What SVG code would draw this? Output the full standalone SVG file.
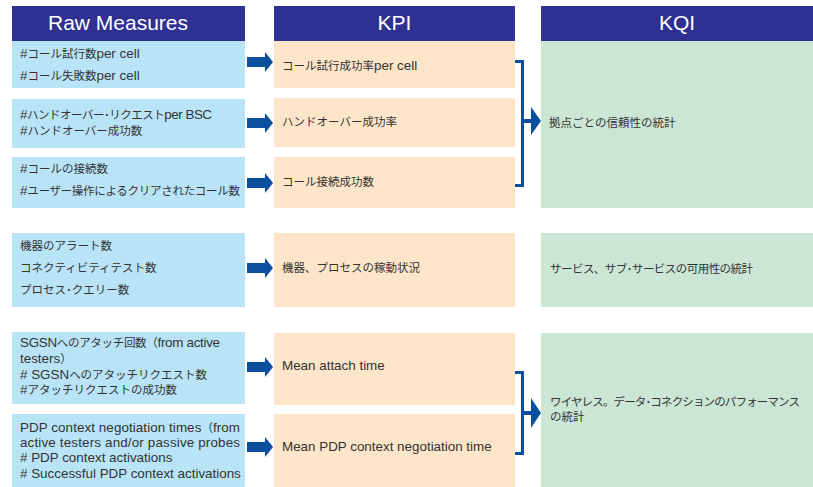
<svg xmlns="http://www.w3.org/2000/svg" xmlns:xlink="http://www.w3.org/1999/xlink" width="813" height="487" viewBox="0 0 813 487">
<style>
.hdr{fill:#2e3192}
.raw{fill:#b9e4f8}
.kpi{fill:#fde5c9}
.kqi{fill:#cce6d5}
.ht{font-family:"Liberation Sans","Noto Sans CJK JP",sans-serif;font-size:21px;fill:#ffffff;text-anchor:middle}
.t{font-family:"Liberation Sans","Noto Sans CJK JP",sans-serif;font-size:11.5px;fill:#333333}
.l{font-size:13.4px}
.arr{fill:#0b4f9f}
.br{fill:none;stroke:#0b4f9f;stroke-width:3}
</style>
<defs>
<path id="a" d="M0,-5 H18 V-10 L26,0 L18,10 V5 H0 Z"/>
</defs>
<rect width="813" height="487" fill="#ffffff"/>
<g id="header-raw"><rect class="hdr" x="12" y="6" width="233" height="35"/><text class="ht" x="118" y="30">Raw Measures</text></g>
<g id="header-kpi"><rect class="hdr" x="274" y="6" width="241" height="35"/><text class="ht" x="394.5" y="30">KPI</text></g>
<g id="header-kqi"><rect class="hdr" x="541" y="6" width="272" height="35"/><text class="ht" x="677" y="30">KQI</text></g>

<g id="raw1"><rect class="raw" x="12" y="41" width="233" height="47"/><text class="t" x="20" y="58"><tspan class="l">#</tspan>コール試行数<tspan class="l">per cell</tspan></text><text class="t" x="20" y="80"><tspan class="l">#</tspan>コール失敗数<tspan class="l">per cell</tspan></text></g>
<g id="raw2"><rect class="raw" x="12" y="99" width="233" height="49"/><text class="t" x="20" y="119" textLength="192"><tspan class="l">#</tspan>ハンドオーバー･リクエスト<tspan class="l">per BSC</tspan></text><text class="t" x="20" y="135"><tspan class="l">#</tspan>ハンドオーバー成功数</text></g>
<g id="raw3"><rect class="raw" x="12" y="157" width="233" height="51"/><text class="t" x="20" y="173"><tspan class="l">#</tspan>コールの接続数</text><text class="t" x="20" y="195" textLength="220"><tspan class="l">#</tspan>ユーザー操作によるクリアされたコール数</text></g>
<g id="raw4"><rect class="raw" x="12" y="233" width="233" height="74"/><text class="t" x="20" y="250">機器のアラート数</text><text class="t" x="20" y="272">コネクティビティテスト数</text><text class="t" x="20" y="294">プロセス･クエリー数</text></g>
<g id="raw5"><rect class="raw" x="12" y="332" width="233" height="72"/><text class="t" x="20" y="347" textLength="200"><tspan class="l">SGSN</tspan>へのアタッチ回数（<tspan class="l">from active</tspan></text><text class="t" x="20" y="363"><tspan class="l">testers</tspan>）</text><text class="t" x="20" y="379"><tspan class="l"># SGSN</tspan>へのアタッチリクエスト数</text><text class="t" x="20" y="394"><tspan class="l">#</tspan>アタッチリクエストの成功数</text></g>
<g id="raw6"><rect class="raw" x="12" y="414" width="233" height="73"/><text class="t" x="20" y="432" textLength="220"><tspan class="l">PDP context negotiation times</tspan>（<tspan class="l">from</tspan></text><text class="t l" x="20" y="447" textLength="220">active testers and/or passive probes</text><text class="t l" x="20" y="462"># PDP context activations</text><text class="t l" x="20" y="478"># Successful PDP context activations</text></g>

<g id="kpi1"><rect class="kpi" x="274" y="41" width="241" height="47"/><text class="t" x="282" y="70">コール試行成功率<tspan class="l">per cell</tspan></text></g>
<g id="kpi2"><rect class="kpi" x="274" y="98" width="241" height="49"/><text class="t" x="282" y="126">ハンドオーバー成功率</text></g>
<g id="kpi3"><rect class="kpi" x="274" y="157" width="241" height="51"/><text class="t" x="282" y="186">コール接続成功数</text></g>
<g id="kpi4"><rect class="kpi" x="274" y="233" width="241" height="74"/><text class="t" x="282" y="272">機器、プロセスの稼動状況</text></g>
<g id="kpi5"><rect class="kpi" x="274" y="333" width="241" height="72"/><text class="t l" x="282" y="370">Mean attach time</text></g>
<g id="kpi6"><rect class="kpi" x="274" y="414" width="241" height="73"/><text class="t l" x="282" y="451">Mean PDP context negotiation time</text></g>

<g id="kqi1"><rect class="kqi" x="541" y="41" width="272" height="167"/><text class="t" x="549" y="127">拠点ごとの信頼性の統計</text></g>
<g id="kqi2"><rect class="kqi" x="541" y="233" width="272" height="74"/><text class="t" x="550" y="273" textLength="203">サービス、サブ･サービスの可用性の統計</text></g>
<g id="kqi3"><rect class="kqi" x="541" y="333" width="272" height="154"/><text class="t" x="550" y="406" textLength="250">ワイヤレス。データ･コネクションのパフォーマンス</text><text class="t" x="550" y="421">の統計</text></g>

<g id="connectors">
<use class="arr" xlink:href="#a" x="247" y="62"/>
<use class="arr" xlink:href="#a" x="247" y="123"/>
<use class="arr" xlink:href="#a" x="247" y="183"/>
<use class="arr" xlink:href="#a" x="247" y="268"/>
<use class="arr" xlink:href="#a" x="247" y="367"/>
<use class="arr" xlink:href="#a" x="247" y="447"/>
<path class="br" d="M515,61.5 H522.5 V185.5 H515"/>
<path class="arr" d="M522,119 H531 V107 L541,121 L531,135 V123 H522 Z"/>
<path class="br" d="M515,372.5 H522.5 V453.5 H515"/>
<path class="arr" d="M522,411 H531 V398 L541,413 L531,428 V415 H522 Z"/>
</g>
</svg>
